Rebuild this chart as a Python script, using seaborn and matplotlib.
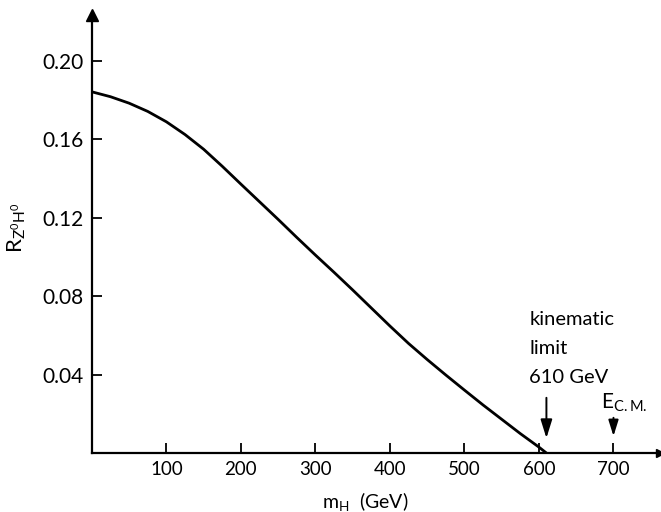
import matplotlib
matplotlib.use("Agg")
import matplotlib.pyplot as plt
import seaborn as sns
import pandas as pd

# Data
m_h = [0, 25, 50, 75, 100, 125, 150, 175, 200, 225, 250, 275, 300, 325, 350,
       375, 400, 425, 450, 475, 500, 525, 550, 575, 600, 610]
ratio = [0.1843, 0.1818, 0.1785, 0.1743, 0.1690, 0.1625, 0.1550, 0.1463,
         0.1372, 0.1282, 0.1192, 0.1100, 0.1010, 0.0922, 0.0832, 0.0740,
         0.0648, 0.0559, 0.0477, 0.0398, 0.0321, 0.0245, 0.0172, 0.0099,
         0.0030, 0.0]
x_ticks = [100, 200, 300, 400, 500, 600, 700]
y_ticks = [0.04, 0.08, 0.12, 0.16, 0.20]
y_tick_labels = ["0.04", "0.08", "0.12", "0.16", "0.20"]
kin_limit = 610
e_cm = 700
kin_text = ["kinematic", "limit", "610 GeV"]

df = pd.DataFrame({"m_H": m_h, "R": ratio})

sns.set_theme(style="white")
plt.rcParams["font.family"] = ["Lato", "DejaVu Sans"]
plt.rcParams["mathtext.fontset"] = "custom"
plt.rcParams["mathtext.rm"] = "Lato"

fig = plt.figure(figsize=(6.61, 5.12), dpi=100)
ax = fig.add_axes([0.139, 0.1152, 0.859, 0.8555])

sns.lineplot(data=df, x="m_H", y="R", ax=ax, color="black", linewidth=2.0)

ax.set_xlim(0, 762)
ax.set_ylim(0, 0.2235)

for s in ["top", "right"]:
    ax.spines[s].set_visible(False)
for s in ["left", "bottom"]:
    ax.spines[s].set_color("black")
    ax.spines[s].set_linewidth(1.6)

ax.set_xticks(x_ticks)
ax.set_xticklabels([str(t) for t in x_ticks])
ax.set_yticks(y_ticks)
ax.set_yticklabels(y_tick_labels)
ax.tick_params(axis="both", direction="in", length=7, width=1.3, colors="black",
               left=True, bottom=True)
ax.tick_params(axis="x", labelsize=13.5, pad=6)
ax.tick_params(axis="y", labelsize=15, pad=6)

# axis arrow heads
ax.plot(0, 1, marker="^", color="black", ms=8, transform=ax.get_xaxis_transform(), clip_on=False)
ax.plot(1, 0, marker=">", color="black", ms=6, transform=ax.get_yaxis_transform(), clip_on=False)

ax.set_xlabel(r"$\mathregular{m_H}$  (GeV)", fontsize=14, color="black")
ax.xaxis.set_label_coords(0.482, -0.085)
ax.set_ylabel(r"$\mathregular{R_{Z^0H^0}}$", fontsize=16, color="black")
ax.yaxis.set_label_coords(-0.113, 0.514)

# annotations
ys = [0.0653, 0.0505, 0.0357]
for t, yy in zip(kin_text, ys):
    ax.text(587, yy, t, fontsize=14.5, color="black", ha="left", va="baseline")
ax.annotate("", xy=(kin_limit, 0.0062), xytext=(kin_limit, 0.0296),
            arrowprops=dict(arrowstyle="-|>,head_width=0.25,head_length=0.8",
                            color="black", lw=1.4, mutation_scale=14))
ax.annotate("", xy=(e_cm, 0.0072), xytext=(e_cm, 0.0194),
            arrowprops=dict(arrowstyle="-|>,head_width=0.25,head_length=0.8",
                            color="black", lw=1.4, mutation_scale=12))
ax.text(683, 0.0225, r"$\mathregular{E_{C.M.}}$", fontsize=15, color="black",
        ha="left", va="baseline")

fig.savefig("out.png", dpi=100)
